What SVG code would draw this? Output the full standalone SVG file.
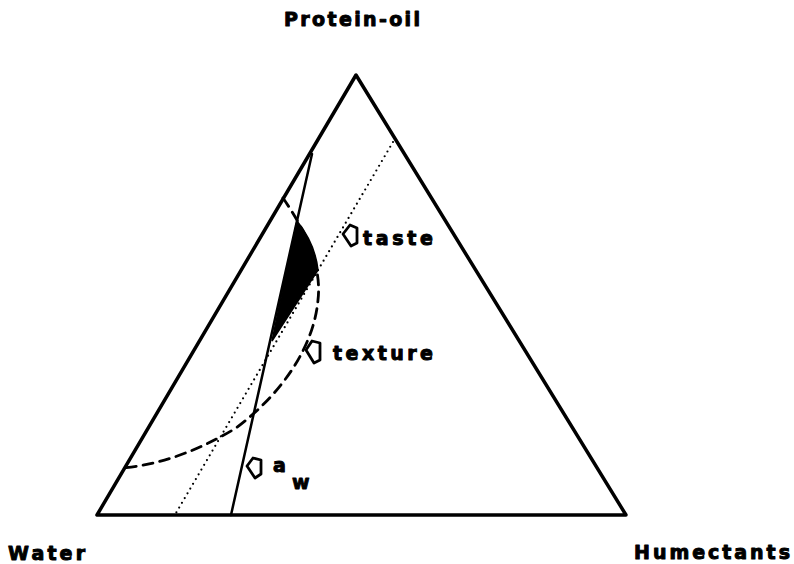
<svg xmlns="http://www.w3.org/2000/svg" width="794" height="564" viewBox="0 0 794 564">
<style>
.lbl{font-family:"DejaVu Sans","Liberation Sans",Arial,sans-serif;font-weight:bold;font-size:19px;fill:#000;stroke:#000;stroke-width:1;stroke-linejoin:round}
.ln{fill:none;stroke:#000;stroke-linecap:round;stroke-linejoin:round}
.mk{fill:#fff;stroke:#000;stroke-width:2.8;stroke-linejoin:round}
</style>
<rect width="794" height="564" fill="#fff"/>
<g id="triangle">
<polygon class="ln" points="356,75 97,515 626,515" style="stroke-width:3.5"/>
</g>
<g id="connectors">
<line id="aw-line" class="ln" x1="312" y1="154" x2="231" y2="515" stroke-width="2.5"/>
<line id="taste-line" class="ln" x1="393" y1="142" x2="176" y2="513" stroke-width="2.2" stroke-dasharray="0,5.5"/>
<path id="texture-curve" class="ln" d="M283,198 C305,230 322,265 318,300 C314,345 284,392 236,428 C200,450 160,465 122,468" stroke-width="2.8" stroke-dasharray="10,7" stroke-linecap="butt"/>
</g>
<g id="region">
<path d="M297,221 C309,236 316,252 318,270 L272,341 Z" fill="#000" stroke="#000" stroke-width="1.5"/>
</g>
<g id="taste">
<path class="mk" d="M343,234 L350,225 L357,228 L357,243 L351,246 Z"/>
<text class="lbl" x="363" y="245" textLength="70" lengthAdjust="spacing">taste</text>
</g>
<g id="texture">
<path class="mk" d="M306,350 L312,341 L320,343 L320,360 L314,363 Z"/>
<text class="lbl" x="333" y="360" textLength="100" lengthAdjust="spacing">texture</text>
</g>
<g id="aw">
<path class="mk" d="M247,466 L253,458 L261,460 L261,474 L255,478 Z"/>
<text class="lbl" x="273" y="472">a</text>
<text class="lbl" x="292" y="489">w</text>
</g>
<g id="protein-oil">
<text class="lbl" x="284" y="26" textLength="136" lengthAdjust="spacing">Protein-oil</text>
</g>
<g id="water">
<text class="lbl" x="8" y="560" textLength="77" lengthAdjust="spacing">Water</text>
</g>
<g id="humectants">
<text class="lbl" x="634" y="559" textLength="156" lengthAdjust="spacing">Humectants</text>
</g>
</svg>
